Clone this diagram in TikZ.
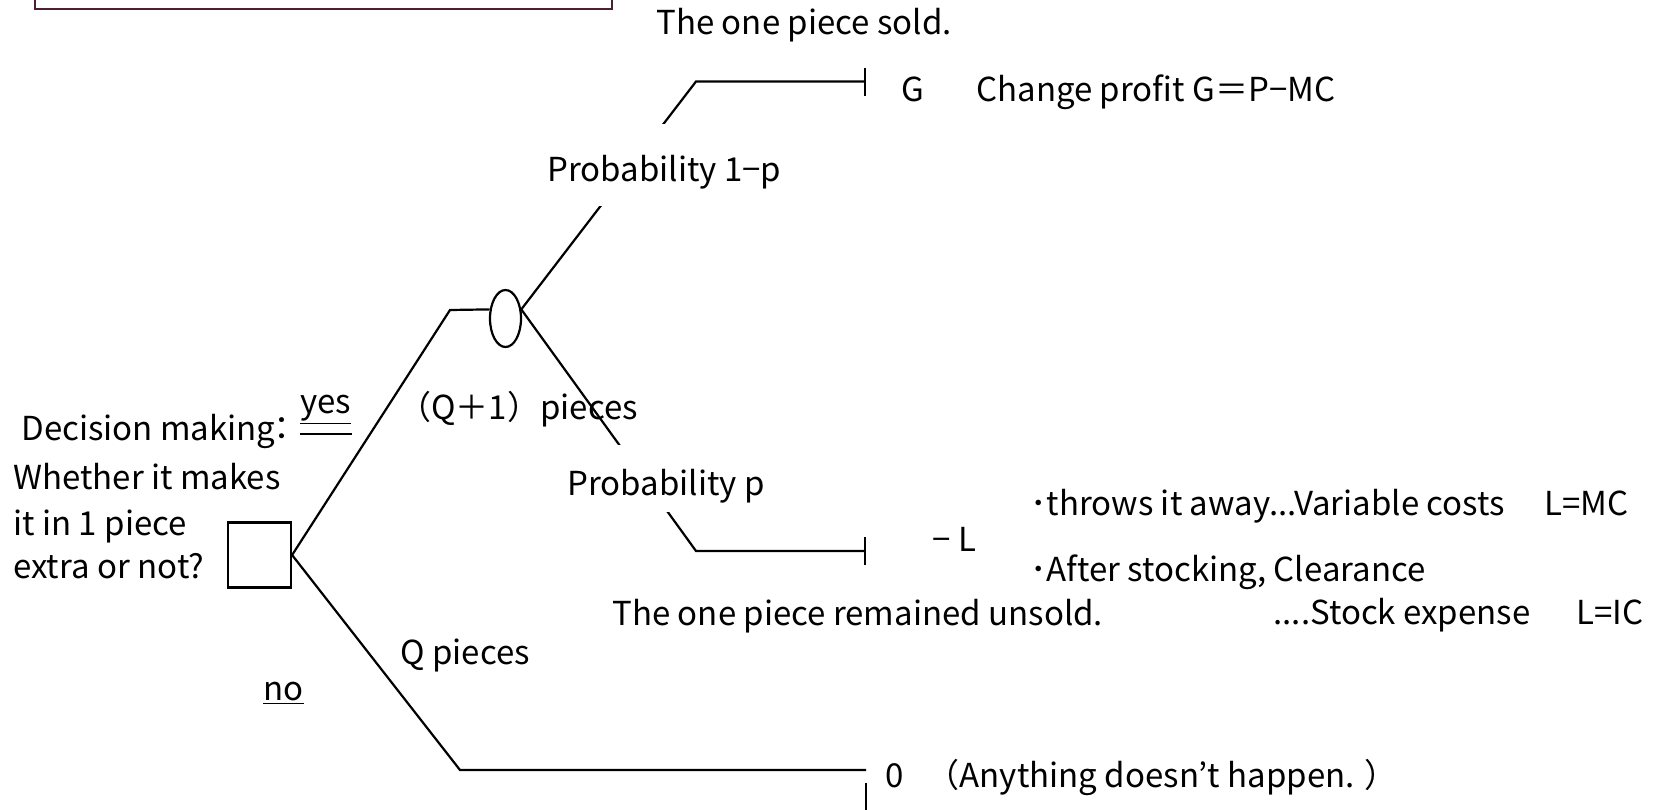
\documentclass[tikz,border=0pt]{standalone}
\usepackage{fontspec}
\setmainfont{Noto Sans CJK JP}
\usetikzlibrary{positioning,arrows.meta,shapes.geometric}
\usepackage{xcolor}
\definecolor{NoteFrame}{RGB}{80,30,50}

\begin{document}
\begin{tikzpicture}[x=0.5pt,y=-0.5pt,
lbl/.style={anchor=base west,inner sep=0pt,font=\fontsize{16.5}{19}\selectfont},
cover/.style 2 args={lbl,fill=white,text height=#1,text depth=#2},
branch/.style={line width=1.1pt},
leaf/.style={branch,-{Bar[width=14pt]}},
decision/.style={rectangle,draw,line width=1.1pt,minimum width=31.5pt,minimum height=32.5pt,inner sep=0pt},
chance/.style={ellipse,draw,line width=1.1pt,minimum width=15.5pt,minimum height=28.5pt,inner sep=0pt}
]
\useasboundingbox (0,0) rectangle (1660,809);
\draw[NoteFrame,line width=1pt] (35,-20) rectangle (612,8.5);

\node[decision] (dec) at (259.5,555) {};
\node[chance] (chance) at (505.5,318.5) {};
\coordinate (yesBend) at (450,310);
\coordinate (noBend) at (460,770);
\coordinate (gBend) at (696,81.5);
\coordinate (gEnd) at (866,81.5);
\coordinate (lBend) at (696,551);
\coordinate (lEnd) at (866,551);
\coordinate (oEnd) at (866,770);
\coordinate (oTickA) at (866,783);
\coordinate (oTickB) at (866,815);

\draw[branch] (dec.east) -- (yesBend) -- (chance.150);
\draw[branch] (dec.east) -- (noBend) -- (oEnd);
\draw[branch] (oTickA) -- (oTickB);
\draw[leaf] (chance.30) -- (gBend) -- (gEnd);
\draw[leaf] (chance.30) -- (lBend) -- (lEnd);

% labels
\node[lbl] (sold) at (656,34) {The one piece sold.};
\node[lbl] (gVal) at (901,101) {G};
\node[lbl] (gNote) at (976,101) {Change profit G＝P−MC};
\node[cover={28.5pt}{12.5pt}] (probUp) at (547,181) {Probability 1−p};
\node[lbl] (decA) at (21,440) {Decision making\kern-0.3em：};
\node[lbl] (yes) at (300,413) {\underline{yes}};
\draw[line width=0.8pt] ([yshift=-4.5pt]yes.south west) -- ([yshift=-4.5pt]yes.south east);
\node[lbl] (decB) at (13,489) {Whether it makes};
\node[lbl] (decC) at (13,535) {it in 1 piece};
\node[lbl] (decD) at (13,578) {extra or not?};
\node[lbl] (qOne) at (398,419) {（Q＋1）pieces};
\node[cover={25pt}{8.5pt}] (probDn) at (567,495) {Probability p};
\node[lbl] (lVal) at (932,551) {− L};
\node[lbl] (throw) at (1030,515) {･throws it away...Variable costs\hspace{1.2em}L=MC};
\node[lbl] (after) at (1030,581) {･After stocking, Clearance};
\node[lbl,anchor=base east] (stock) at (1644,624) {....Stock expense\hspace{1.4em}L=IC};
\node[lbl] (unsold) at (612,625) {The one piece remained unsold.};
\node[lbl] (qOnly) at (400,664) {Q pieces};
\node[lbl] (no) at (263,700) {\underline{no}};
\node[lbl] (zero) at (885,787) {0\hspace{0.7em}（Anything doesn’t happen. ）};
\end{tikzpicture}
\end{document}
